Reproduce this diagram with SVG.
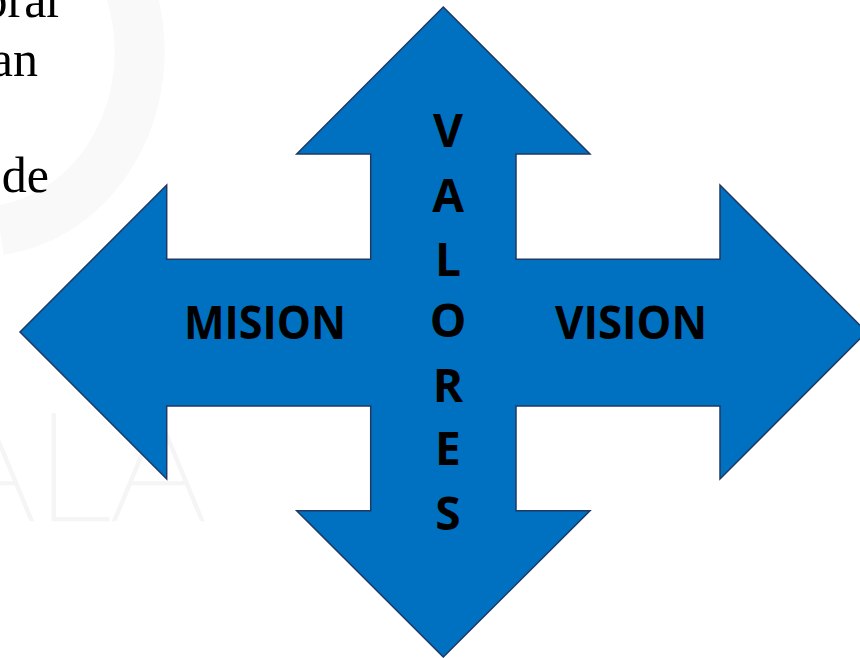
<svg xmlns="http://www.w3.org/2000/svg" width="860" height="658" viewBox="0 0 860 658">
  <style>
    .bg-text { font-family: "Liberation Serif", "Times New Roman", serif; font-size: 50px; fill: #000; }
    .wm { font-family: Lato, "Liberation Sans", sans-serif; font-weight: 100; font-size: 150px; fill: none; stroke: #f5f5f5; stroke-width: 2.5; }
    .arrow { fill: #0070C0; stroke: #1F3864; stroke-width: 1.5; stroke-linejoin: miter; }
    .lbl { font-family: "Open Sans", "Liberation Sans", sans-serif; font-weight: 700; font-size: 46px; fill: #000; }
    .vl { font-family: "Open Sans", "Liberation Sans", sans-serif; font-weight: 700; font-size: 46px; fill: #000; text-anchor: middle; }
  </style>
  <rect x="0" y="0" width="860" height="658" fill="#ffffff"/>
  <g id="watermark">
    <path d="M 130 -10 A 160 180 0 0 1 0 230" fill="none" stroke="#f9f9f9" stroke-width="50"/>
    <text class="wm" x="-60" y="520">ALA</text>
  </g>
  <g id="background-text">
    <text class="bg-text" x="63" y="17" text-anchor="end">brar</text>
    <text class="bg-text" x="38" y="76" text-anchor="end">an</text>
    <text class="bg-text" x="49" y="192" text-anchor="end">de</text>
  </g>
  <g id="cross-arrow">
    <path class="arrow" d="M 443.3 7 L 590 154 L 516 154 L 516 259.3 L 720 259.3 L 720 185 L 866.6 332 L 720 479 L 720 406 L 516 406 L 516 510.7 L 590 510.7 L 443.3 657 L 296.7 510.7 L 370.7 510.7 L 370.7 406 L 166.7 406 L 166.7 479 L 20 332 L 166.7 185 L 166.7 259.3 L 370.7 259.3 L 370.7 154 L 296.7 154 Z"/>
  </g>
  <g id="mision">
    <text class="lbl" x="184" y="339.3" textLength="162" lengthAdjust="spacingAndGlyphs">MISION</text>
  </g>
  <g id="vision">
    <text class="lbl" x="555" y="339.3" textLength="152" lengthAdjust="spacingAndGlyphs">VISION</text>
  </g>
  <g id="valores">
    <text class="vl" x="448" y="147.3">V</text>
    <text class="vl" x="448" y="211.7">A</text>
    <text class="vl" x="448" y="276">L</text>
    <text class="vl" x="448" y="336.5">O</text>
    <text class="vl" x="448" y="401.7">R</text>
    <text class="vl" x="448" y="465">E</text>
    <text class="vl" x="448" y="530">S</text>
  </g>
</svg>
